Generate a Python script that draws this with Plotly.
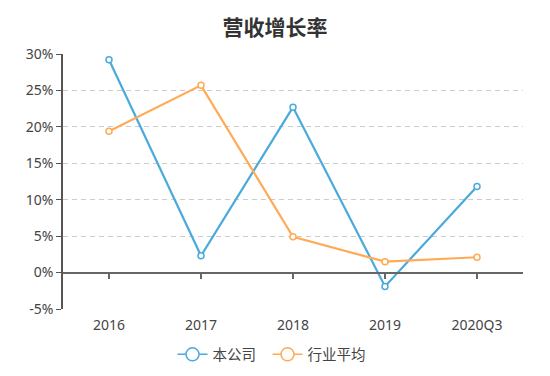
import plotly.graph_objects as go

categories = ["2016", "2017", "2018", "2019", "2020Q3"]
company = [29.2, 2.3, 22.7, -1.9, 11.8]
industry = [19.4, 25.7, 4.9, 1.5, 2.1]
series_names = ["本公司", "行业平均"]
title_text = "营收增长率"
y_tick_vals = [-5, 0, 5, 10, 15, 20, 25, 30]
y_tick_text = ["-5%", "0%", "5%", "10%", "15%", "20%", "25%", "30%"]

blue = "#4aaadc"
orange = "#ffaa55"
font_family = "Noto Sans, Noto Sans CJK SC, sans-serif"
cjk_family = "Noto Sans CJK SC, sans-serif"

fig = go.Figure()
for name, vals, col in [(series_names[0], company, blue), (series_names[1], industry, orange)]:
    fig.add_trace(go.Scatter(
        x=categories, y=vals, name=name, mode="lines+markers", showlegend=False,
        line=dict(color=col, width=2.2),
        marker=dict(symbol="circle", size=6, color="white", line=dict(color=col, width=1.5)),
    ))
    # legend entry with larger marker
    fig.add_trace(go.Scatter(
        x=[None], y=[None], name=name + "  ", mode="lines+markers",
        line=dict(color=col, width=1.5),
        marker=dict(symbol="circle", size=13, color="white", line=dict(color=col, width=1.5)),
    ))

# invisible trace on second x axis to draw the axis at zero
fig.add_trace(go.Scatter(x=categories, y=[None]*len(categories), xaxis="x2", showlegend=False, hoverinfo="skip"))

ymin, ymax = y_tick_vals[0], y_tick_vals[-1]
fig.update_layout(
    width=550, height=376,
    margin=dict(l=63, r=27, t=54, b=67, autoexpand=False),
    paper_bgcolor="white", plot_bgcolor="white",
    font=dict(family=font_family, size=14, color="#444"),
    title=dict(text="<b>" + title_text + "</b>", x=0.5, xanchor="center", y=0.927, yanchor="middle",
               automargin=False,
               font=dict(size=21, color="#333", family=cjk_family)),
    xaxis=dict(type="category", range=[-0.5, 4.5], showline=False, showgrid=False,
               ticks="outside", ticklen=3, tickcolor="rgba(0,0,0,0)",
               zeroline=False, automargin=False, tickfont=dict(size=14, color="#444")),
    xaxis2=dict(type="category", range=[-0.5, 4.5], overlaying="x", anchor="free",
                position=(0 - ymin) / (ymax - ymin), showline=True, linecolor="#666", linewidth=2,
                ticks="outside", ticklen=5, tickcolor="#666", tickwidth=1.5, showticklabels=False,
                showgrid=False, zeroline=False),
    yaxis=dict(range=[ymin, ymax], tickmode="array", tickvals=y_tick_vals, ticktext=y_tick_text,
               showgrid=True, gridcolor="#cccccc",
               griddash="5px,4px", gridwidth=1.3, showline=True, linecolor="#555", linewidth=1.5,
               ticks="outside", ticklen=5, tickcolor="#555", zeroline=False, automargin=False,
               tickfont=dict(size=14, color="#444")),
    legend=dict(orientation="h", xref="container", x=0.5, xanchor="center",
                y=-0.178, yanchor="middle",
                font=dict(size=14.5, color="#444", family=cjk_family)),
    showlegend=True,
)

fig.write_html("out.html", config={"displayModeBar": False},
               post_script="document.body.style.margin='0';document.body.style.padding='0';")
